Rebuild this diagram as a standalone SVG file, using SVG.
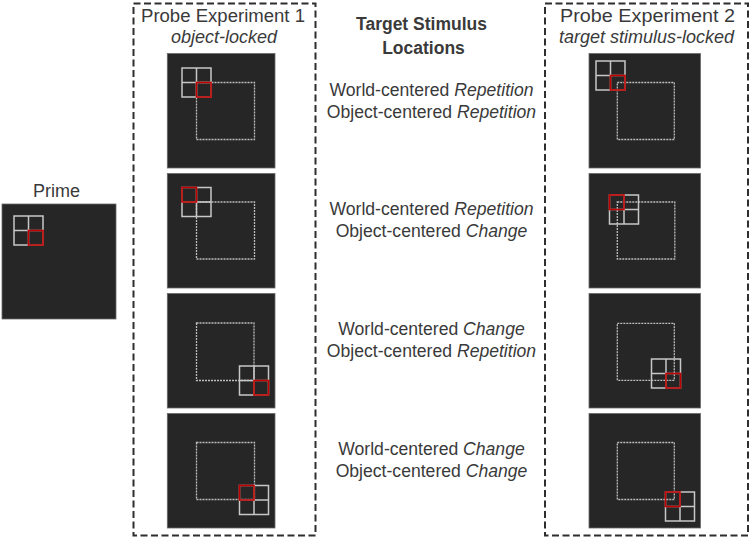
<svg xmlns="http://www.w3.org/2000/svg" width="751" height="541" viewBox="0 0 751 541">
<style>
text{font-family:"Liberation Sans",Arial,sans-serif;fill:#3a3a3a;font-size:18px}
.it{font-style:italic}
.b{font-weight:bold;font-size:17.5px}
.lbl{font-size:17.6px;text-anchor:middle}
.box{fill:none;stroke:#2e2e2e;stroke-width:2;stroke-dasharray:7 3.5}
.pan{fill:#262626;stroke:#6a6a6a;stroke-width:0.8}
.dsq{fill:none;stroke:#bdbdbd;stroke-width:1.3;stroke-dasharray:2 1}
.gr{fill:none;stroke:#c8c8c8;stroke-width:1.5}
.red{fill:none;stroke:#c00000;stroke-width:1.6}
</style>
<defs>
<g id="grid"><rect class="gr" x="0" y="0" width="29" height="29"/><line class="gr" x1="14.5" y1="0" x2="14.5" y2="29"/><line class="gr" x1="0" y1="14.5" x2="29" y2="14.5"/></g>
<rect id="rc" class="red" x="0" y="0" width="14.5" height="14.5"/>
</defs>
<g id="prime">
<text x="56.5" y="197" text-anchor="middle">Prime</text>
<rect class="pan" x="2" y="204" width="114" height="115"/>
<use href="#grid" x="14" y="216"/>
<use href="#rc" x="28.5" y="230.5"/>
</g>
<g id="exp1">
<rect class="box" x="133.5" y="3.5" width="182" height="532"/>
<text x="223" y="21.5" textLength="164" lengthAdjust="spacingAndGlyphs" text-anchor="middle">Probe Experiment 1</text>
<text class="it" x="224" y="43" text-anchor="middle">object-locked</text>
<g id="e1p1">
<rect class="pan" x="167.3" y="53.5" width="107.7" height="114.5"/>
<rect class="dsq" x="196.5" y="82.5" width="58" height="57"/>
<use href="#grid" x="182" y="68"/>
<use href="#rc" x="196.5" y="82.5"/>
</g>
<g id="e1p2">
<rect class="pan" x="167.3" y="173.5" width="107.7" height="114.5"/>
<rect class="dsq" x="196.5" y="202" width="58" height="57"/>
<use href="#grid" x="182" y="187.5"/>
<use href="#rc" x="182" y="187.5"/>
</g>
<g id="e1p3">
<rect class="pan" x="167.3" y="293.5" width="107.7" height="114.5"/>
<rect class="dsq" x="196.5" y="323" width="57.5" height="57.5"/>
<use href="#grid" x="239.5" y="366"/>
<use href="#rc" x="254" y="380.5"/>
</g>
<g id="e1p4">
<rect class="pan" x="167.3" y="413.5" width="107.7" height="114.5"/>
<rect class="dsq" x="196.5" y="442.5" width="58" height="57"/>
<use href="#grid" x="239.5" y="485.5"/>
<use href="#rc" x="239.5" y="485.5"/>
</g>
</g>
<g id="labels">
<text class="b" x="421.5" y="30" text-anchor="middle">Target Stimulus</text>
<text class="b" x="423.5" y="53.5" text-anchor="middle">Locations</text>
<g id="row1">
<text class="lbl" x="431.5" y="96">World-centered <tspan class="it">Repetition</tspan></text>
<text class="lbl" x="431.5" y="118">Object-centered <tspan class="it">Repetition</tspan></text>
</g>
<g id="row2">
<text class="lbl" x="431.5" y="215">World-centered <tspan class="it">Repetition</tspan></text>
<text class="lbl" x="431.5" y="237">Object-centered <tspan class="it">Change</tspan></text>
</g>
<g id="row3">
<text class="lbl" x="431.5" y="335">World-centered <tspan class="it">Change</tspan></text>
<text class="lbl" x="431.5" y="357">Object-centered <tspan class="it">Repetition</tspan></text>
</g>
<g id="row4">
<text class="lbl" x="431.5" y="455">World-centered <tspan class="it">Change</tspan></text>
<text class="lbl" x="431.5" y="477">Object-centered <tspan class="it">Change</tspan></text>
</g>
</g>
<g id="exp2">
<rect class="box" x="545" y="3.5" width="203" height="532"/>
<text x="647.5" y="21.5" textLength="175" lengthAdjust="spacingAndGlyphs" text-anchor="middle">Probe Experiment 2</text>
<text class="it" x="646.5" y="43" text-anchor="middle">target stimulus-locked</text>
<g id="e2p1">
<rect class="pan" x="589" y="53.5" width="111.5" height="114.5"/>
<rect class="dsq" x="617.3" y="82.5" width="57" height="57"/>
<use href="#grid" x="596" y="61"/>
<use href="#rc" x="610.5" y="75.5"/>
</g>
<g id="e2p2">
<rect class="pan" x="589" y="173.5" width="111.5" height="114.5"/>
<rect class="dsq" x="617.3" y="202" width="57.5" height="57"/>
<use href="#grid" x="609.5" y="195"/>
<use href="#rc" x="609.5" y="195"/>
</g>
<g id="e2p3">
<rect class="pan" x="589" y="293.5" width="111.5" height="114.5"/>
<rect class="dsq" x="617.3" y="323.3" width="57" height="57"/>
<use href="#grid" x="651.5" y="359"/>
<use href="#rc" x="666" y="373.5"/>
</g>
<g id="e2p4">
<rect class="pan" x="589" y="413.5" width="111.5" height="114.5"/>
<rect class="dsq" x="617.3" y="442.5" width="57" height="57"/>
<use href="#grid" x="665.5" y="492"/>
<use href="#rc" x="665.5" y="492"/>
</g>
</g>
<g id="connectors"/>
</svg>
